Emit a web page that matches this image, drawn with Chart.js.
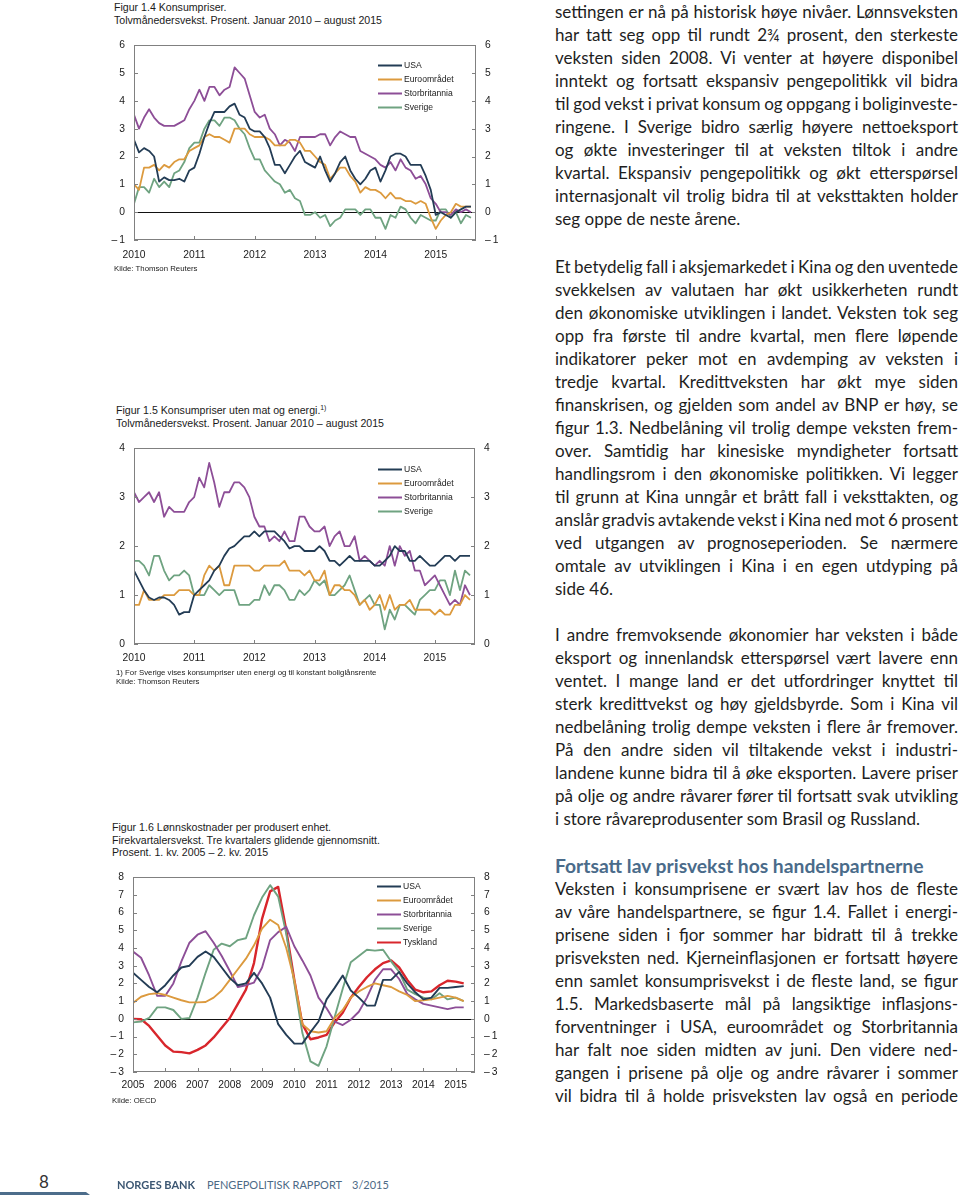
<!DOCTYPE html>
<html lang="no">
<head>
<meta charset="utf-8">
<script src="https://cdn.jsdelivr.net/npm/chart.js@4.4.1/dist/chart.umd.min.js"></script>
<style>
  body { margin: 0; width: 960px; height: 1200px; position: relative; overflow: hidden; background: #fff;
         font-family: "Liberation Sans", Arial, sans-serif; color: #1a1a1a; }
  .fig { position: absolute; font-size: 10.6px; line-height: 12.6px; white-space: nowrap; }
  .fig sup { font-size: 6.8px; vertical-align: 4px; line-height: 0; }
  .src { position: absolute; font-size: 7.8px; line-height: 9px; white-space: nowrap; }
  canvas { position: absolute; }
  .col { position: absolute; left: 555px; width: 403px; font-family: Lato, "Open Sans", sans-serif;
         font-size: 17px; color: #1e1e1e; }
  .col div { height: 23px; line-height: 23px; white-space: nowrap; text-align: justify; text-align-last: justify; }
  .col div.end { text-align-last: left; }
  .col h3 { margin: 0; height: 23px; line-height: 23px; font-size: 19.3px; font-weight: 700; color: #4a6b8a; white-space: nowrap; }
  .foot { position: absolute; font-family: Lato, sans-serif; white-space: nowrap; }
</style>
</head>
<body>

<!-- ─── Figur 1.4 ─────────────────────────────────────────── -->
<div class="fig" style="left:114px; top:1px;">Figur 1.4 Konsumpriser.<br>Tolvmånedersvekst. Prosent. Januar 2010 – august 2015</div>
<canvas id="c1" width="410" height="235" style="left:100px; top:30px;"></canvas>
<div class="src" style="left:114px; top:264px;">Kilde: Thomson Reuters</div>

<!-- ─── Figur 1.5 ─────────────────────────────────────────── -->
<div class="fig" style="left:116px; top:404px;">Figur 1.5 Konsumpriser uten mat og energi.<sup>1)</sup><br>Tolvmånedersvekst. Prosent. Januar 2010 – august 2015</div>
<canvas id="c2" width="409" height="236" style="left:100px; top:433px;"></canvas>
<div class="src" style="left:116px; top:668px;">1) For Sverige vises konsumpriser uten energi og til konstant boliglånsrente<br>Kilde: Thomson Reuters</div>

<!-- ─── Figur 1.6 ─────────────────────────────────────────── -->
<div class="fig" style="left:112px; top:821px;">Figur 1.6 Lønnskostnader per produsert enhet.<br>Firekvartalersvekst. Tre kvartalers glidende gjennomsnitt.<br>Prosent. 1. kv. 2005 – 2. kv. 2015</div>
<canvas id="c3" width="410" height="235" style="left:99px; top:862px;"></canvas>
<div class="src" style="left:112px; top:1096px;">Kilde: OECD</div>

<!-- ─── Brødtekst ─────────────────────────────────────────── -->
<div class="col" style="top:0px;">
  <div>settingen er nå på historisk høye nivåer. Lønnsveksten</div>
  <div>har tatt seg opp til rundt 2¾ prosent, den sterkeste</div>
  <div>veksten siden 2008. Vi venter at høyere disponibel</div>
  <div>inntekt og fortsatt ekspansiv pengepolitikk vil bidra</div>
  <div>til god vekst i privat konsum og oppgang i boliginveste-</div>
  <div>ringene. I Sverige bidro særlig høyere nettoeksport</div>
  <div>og økte investeringer til at veksten tiltok i andre</div>
  <div>kvartal. Ekspansiv pengepolitikk og økt etterspørsel</div>
  <div>internasjonalt vil trolig bidra til at veksttakten holder</div>
  <div class="end">seg oppe de neste årene.</div>
</div>
<div class="col" style="top:255px;">
  <div>Et betydelig fall i aksjemarkedet i Kina og den uventede</div>
  <div>svekkelsen av valutaen har økt usikkerheten rundt</div>
  <div>den økonomiske utviklingen i landet. Veksten tok seg</div>
  <div>opp fra første til andre kvartal, men flere løpende</div>
  <div>indikatorer peker mot en avdemping av veksten i</div>
  <div>tredje kvartal. Kredittveksten har økt mye siden</div>
  <div>finanskrisen, og gjelden som andel av BNP er høy, se</div>
  <div>figur 1.3. Nedbelåning vil trolig dempe veksten frem-</div>
  <div>over. Samtidig har kinesiske myndigheter fortsatt</div>
  <div>handlingsrom i den økonomiske politikken. Vi legger</div>
  <div>til grunn at Kina unngår et brått fall i veksttakten, og</div>
  <div>anslår gradvis avtakende vekst i Kina ned mot 6 prosent</div>
  <div>ved utgangen av prognoseperioden. Se nærmere</div>
  <div>omtale av utviklingen i Kina i en egen utdyping på</div>
  <div class="end">side 46.</div>
</div>
<div class="col" style="top:623px;">
  <div>I andre fremvoksende økonomier har veksten i både</div>
  <div>eksport og innenlandsk etterspørsel vært lavere enn</div>
  <div>ventet. I mange land er det utfordringer knyttet til</div>
  <div>sterk kredittvekst og høy gjeldsbyrde. Som i Kina vil</div>
  <div>nedbelåning trolig dempe veksten i flere år fremover.</div>
  <div>På den andre siden vil tiltakende vekst i industri-</div>
  <div>landene kunne bidra til å øke eksporten. Lavere priser</div>
  <div>på olje og andre råvarer fører til fortsatt svak utvikling</div>
  <div class="end">i store råvareprodusenter som Brasil og Russland.</div>
</div>
<div class="col" style="top:854px;">
  <h3>Fortsatt lav prisvekst hos handelspartnerne</h3>
  <div>Veksten i konsumprisene er svært lav hos de fleste</div>
  <div>av våre handelspartnere, se figur 1.4. Fallet i energi-</div>
  <div>prisene siden i fjor sommer har bidratt til å trekke</div>
  <div>prisveksten ned. Kjerneinflasjonen er fortsatt høyere</div>
  <div>enn samlet konsumprisvekst i de fleste land, se figur</div>
  <div>1.5. Markedsbaserte mål på langsiktige inflasjons-</div>
  <div>forventninger i USA, euroområdet og Storbritannia</div>
  <div>har falt noe siden midten av juni. Den videre ned-</div>
  <div>gangen i prisene på olje og andre råvarer i sommer</div>
  <div>vil bidra til å holde prisveksten lav også en periode</div>
</div>

<!-- ─── Sidefot ───────────────────────────────────────────── -->
<div class="foot" style="left:39px; top:1171px; font-size:17px; color:#333;">8</div>
<div style="position:absolute; left:0; top:1192px; width:90px; height:3px; background:#4d6d8b; clip-path:polygon(0 0, 86px 0, 90px 100%, 0 100%);"></div>
<div class="foot" style="left:117px; top:1178px; font-size:11px; font-weight:700; color:#3c5773;">NORGES BANK</div>
<div class="foot" style="left:207px; top:1178px; font-size:11px; color:#4d6a86;">PENGEPOLITISK RAPPORT</div>
<div class="foot" style="left:352px; top:1178px; font-size:11px; color:#4d6a86;">3/2015</div>

<script>
// ═══════════════════════════════════════════════════════════════
// ─── DATA
// ═══════════════════════════════════════════════════════════════
const seriesNames = ['USA', 'Euroområdet', 'Storbritannia', 'Sverige'];
const seriesNames3 = ['USA', 'Euroområdet', 'Storbritannia', 'Sverige', 'Tyskland'];

// Figur 1.4 – månedlig, jan 2010 – aug 2015
const cpiUsa = [
  2.6, 2.15, 2.3, 2.2, 2.0, 1.1, 1.25, 1.15, 1.15, 1.2, 1.1, 1.5,
  1.6, 2.1, 2.7, 3.2, 3.6, 3.6, 3.6, 3.8, 3.9, 3.5, 3.4, 3.0,
  2.9, 2.9, 2.7, 2.3, 1.7, 1.7, 1.4, 1.7, 2.0, 2.2, 1.8, 1.7,
  1.6, 2.0, 1.5, 1.1, 1.4, 1.8, 2.0, 1.5, 1.2, 1.0, 1.2, 1.5,
  1.6, 1.1, 1.5, 2.0, 2.1, 2.1, 2.0, 1.7, 1.7, 1.7, 1.3, 0.8,
  -0.1, 0.0, -0.1, -0.2, 0.0, 0.1, 0.2, 0.2
];
const cpiEuro = [
  1.0, 0.8, 1.6, 1.6, 1.7, 1.5, 1.7, 1.6, 1.8, 1.9, 1.9, 2.2,
  2.3, 2.4, 2.7, 2.8, 2.7, 2.7, 2.6, 2.5, 3.0, 3.0, 3.0, 2.8,
  2.7, 2.7, 2.7, 2.6, 2.4, 2.4, 2.4, 2.6, 2.6, 2.5, 2.2, 2.2,
  2.0, 1.8, 1.7, 1.2, 1.4, 1.6, 1.6, 1.3, 1.1, 0.7, 0.9, 0.8,
  0.8, 0.7, 0.5, 0.7, 0.5, 0.5, 0.4, 0.4, 0.3, 0.4, 0.3, -0.2,
  -0.6, -0.3, -0.1, 0.0, 0.3, 0.2, 0.2, 0.2
];
const cpiUk = [
  3.5, 3.0, 3.4, 3.7, 3.4, 3.2, 3.1, 3.1, 3.1, 3.2, 3.3, 3.7,
  4.0, 4.4, 4.0, 4.5, 4.5, 4.2, 4.4, 4.5, 5.2, 5.0, 4.8, 4.2,
  3.6, 3.4, 3.5, 3.0, 2.8, 2.4, 2.6, 2.5, 2.2, 2.7, 2.7, 2.7,
  2.7, 2.8, 2.8, 2.4, 2.7, 2.9, 2.8, 2.7, 2.7, 2.2, 2.1, 2.0,
  1.9, 1.7, 1.6, 1.8, 1.5, 1.9, 1.6, 1.5, 1.2, 1.3, 1.0, 0.5,
  0.3, 0.0, 0.0, -0.1, 0.1, 0.0, 0.1, 0.0
];
const cpiSwe = [
  0.3, 0.9, 0.9, 0.7, 1.2, 0.9, 1.1, 0.9, 1.4, 1.5, 1.8, 2.3,
  2.5, 2.5, 3.0, 3.3, 3.3, 3.1, 3.4, 3.4, 3.3, 3.0, 2.8, 2.3,
  1.9, 1.9, 1.5, 1.3, 1.1, 1.0, 0.7, 0.8, 0.5, 0.4, -0.1, -0.1,
  0.0, -0.2, -0.1, -0.5, -0.3, -0.2, 0.1, 0.1, 0.1, -0.1, 0.1, 0.1,
  -0.2, -0.2, -0.6, -0.1, -0.2, 0.2, 0.1, -0.2, -0.4, -0.1, -0.2, -0.3,
  -0.3, 0.1, 0.1, -0.2, 0.0, -0.4, -0.1, -0.2
];

// Figur 1.5 – månedlig, jan 2010 – aug 2015
const coreUsa = [
  1.5, 1.3, 1.1, 0.95, 0.9, 0.95, 0.95, 0.9, 0.8, 0.6, 0.65, 0.65,
  1.0, 1.1, 1.2, 1.3, 1.5, 1.6, 1.8, 1.95, 2.0, 2.1, 2.2, 2.2,
  2.3, 2.2, 2.3, 2.3, 2.3, 2.2, 2.1, 1.95, 2.0, 2.0, 1.9, 1.9,
  1.9, 2.0, 1.9, 1.7, 1.7, 1.6, 1.7, 1.8, 1.7, 1.7, 1.7, 1.7,
  1.6, 1.6, 1.7, 1.8, 2.0, 1.9, 1.9, 1.7, 1.7, 1.8, 1.7, 1.6,
  1.6, 1.7, 1.8, 1.8, 1.7, 1.8, 1.8, 1.8
];
const coreEuro = [
  0.8, 0.8, 1.1, 0.9, 0.9, 0.9, 1.0, 1.0, 1.0, 1.1, 1.1, 1.1,
  1.0, 1.0, 1.4, 1.6, 1.5, 1.6, 1.2, 1.2, 1.6, 1.6, 1.6, 1.6,
  1.5, 1.5, 1.6, 1.6, 1.6, 1.6, 1.7, 1.5, 1.5, 1.5, 1.4, 1.5,
  1.3, 1.3, 1.5, 1.0, 1.2, 1.2, 1.1, 1.1, 1.0, 0.8, 0.9, 0.7,
  0.8, 1.0, 0.7, 1.0, 0.7, 0.8, 0.8, 0.9, 0.7, 0.7, 0.7, 0.7,
  0.6, 0.7, 0.6, 0.6, 0.8, 0.8, 1.0, 0.9
];
const coreUk = [
  3.1, 2.9, 3.0, 3.1, 2.9, 3.1, 2.6, 2.8, 2.7, 2.7, 2.7, 2.9,
  3.0, 3.4, 3.2, 3.7, 3.3, 2.8, 3.1, 3.1, 3.3, 3.3, 3.2, 3.0,
  2.6, 2.4, 2.4, 2.1, 2.2, 2.1, 2.3, 2.1, 2.1, 2.6, 2.6, 2.4,
  2.3, 2.3, 2.4, 2.0, 2.2, 2.3, 2.0, 2.0, 2.2, 1.7, 1.8, 1.7,
  1.6, 1.7, 1.6, 2.0, 1.6, 2.0, 1.8, 1.9, 1.5, 1.5, 1.2, 1.3,
  1.4, 1.2, 1.0, 0.8, 0.9, 0.8, 1.2, 1.0
];
const coreSwe = [
  1.7, 1.7, 1.6, 1.4, 1.8, 1.8, 1.5, 1.3, 1.4, 1.4, 1.5, 1.4,
  1.0, 1.0, 1.0, 1.2, 1.1, 1.0, 1.1, 1.1, 1.1, 0.8, 0.8, 0.8,
  0.9, 0.9, 1.2, 1.0, 1.2, 1.2, 1.1, 0.9, 0.9, 1.1, 1.0, 1.1,
  1.3, 1.2, 1.3, 1.0, 1.0, 1.1, 1.2, 1.4, 1.1, 0.8, 0.9, 1.0,
  0.8, 0.8, 0.3, 0.7, 0.5, 0.8, 0.8, 0.7, 0.6, 0.9, 1.0, 1.1,
  1.1, 1.3, 1.3, 1.0, 1.5, 1.1, 1.5, 1.4
];

// Figur 1.6 – kvartalsvis, 1. kv. 2005 – 2. kv. 2015
const ulcUsa = [
  2.6, 2.2, 1.8, 1.5,   1.9, 2.45, 2.9, 3.0,   3.5, 3.8, 3.5, 2.9,
  2.3, 1.9, 2.0, 2.6,   2.0, 1.2, -0.3, -0.9,  -1.4, -1.4, -0.75, -0.15,
  1.1, 1.75, 2.45, 1.6, 1.2, 0.75, 0.75, 2.2,  2.2, 2.65, 2.0, 1.5,
  1.1, 1.2, 1.75, 1.75, 1.8, 1.85
];
const ulcEuro = [
  0.9, 1.25, 1.4, 1.45, 1.35, 1.2, 1.05, 0.93, 0.93, 0.95, 1.2, 1.6,
  2.2, 2.8, 3.4, 4.15,  5.1, 5.6, 5.3, 4.0,    2.2, -0.3, -0.7, -0.77,
  -0.7, 0.05, 0.5, 1.2, 1.55, 1.8, 2.0, 1.9,   1.8, 1.55, 1.35, 1.0,
  1.05, 1.1, 1.2, 1.3,  1.2, 1.0
];
const ulcUk = [
  3.8, 3.45, 2.45, 1.3, 1.3, 2.0, 3.25, 4.3,   4.75, 4.95, 4.3, 3.55,
  2.7, 1.8, 1.9, 2.05,  2.9, 4.45, 4.9, 5.2,   4.1, 3.3, 2.45, 1.2,
  0.6, -0.15, -0.35, -0.05, 0.4, 1.2, 2.2, 2.8, 2.8, 2.25, 1.4, 1.1,
  0.85, 0.75, 0.65, 0.55, 0.65, 0.65
];
const ulcSwe = [
  -0.2, -0.15, 0.05, 0.65, 0.65, 0.5, 0.0, 0.05, 1.2, 2.6, 3.9, 4.25,
  4.1, 4.45, 4.55, 5.85, 6.85, 7.55, 6.9, 4.8,  2.0, -0.8, -2.4, -2.65,
  -1.55, 0.1, 1.7, 3.2, 3.55, 3.9, 3.85, 3.9,  3.25, 2.65, 1.65, 1.4,
  1.2, 1.1, 1.45, 1.1,  1.2, 1.0
];
const ulcGer = [
  0.0, -0.02, -0.4, -0.95, -1.5, -1.85, -1.88, -1.95, -1.75, -1.5, -1.05, -0.5,
  0.05, 0.85, 1.65, 3.15, 5.65, 7.2, 7.45, 5.0,  2.2, -0.3, -1.15, -1.05,
  -0.9, -0.2, 0.35, 1.2, 1.8, 2.35, 2.8, 3.15,   3.3, 2.9, 2.2, 1.65,
  1.5, 1.55, 1.9, 2.15, 2.1, 2.0
];

// Akser
const yearTicks12 = [2010, 2011, 2012, 2013, 2014, 2015];
const yearTicks3 = [2005, 2006, 2007, 2008, 2009, 2010, 2011, 2012, 2013, 2014, 2015];
const yTicks1 = [-1, 0, 1, 2, 3, 4, 5, 6];
const yTicks2 = [0, 1, 2, 3, 4];
const yTicks3 = [-3, -2, -1, 0, 1, 2, 3, 4, 5, 6, 7, 8];

const colors = ['#233c55', '#dc9a3e', '#8d4e97', '#6fa381', '#d8262c'];

// ═══════════════════════════════════════════════════════════════
// ─── HELPERS
// ═══════════════════════════════════════════════════════════════
const toMonthly = (vals, start) => vals.map((v, i) => ({ x: start + i / 12, y: v }));
const toQuarterly = (vals, start) => vals.map((v, i) => ({ x: start + i / 4, y: v }));
const fmtNum = v => (v < 0 ? '\u2013\u2009' + Math.abs(v) : String(v));

// box, inward tick marks, zero line and in-plot legend
const framePlugin = {
  id: 'frame',
  beforeDatasetsDraw(chart) {
    const { ctx, chartArea: a, scales } = chart;
    const y0 = Math.round(scales.y.getPixelForValue(0)) + 0.5;
    if (y0 > a.top + 2 && y0 < a.bottom - 2) {
      ctx.save();
      ctx.strokeStyle = '#111';
      ctx.lineWidth = 1;
      ctx.beginPath();
      ctx.moveTo(a.left, y0);
      ctx.lineTo(a.right, y0);
      ctx.stroke();
      ctx.restore();
    }
  },
  afterDraw(chart, args, opts) {
    const { ctx, chartArea: a, scales } = chart;
    ctx.save();
    ctx.strokeStyle = '#808080';
    ctx.lineWidth = 1;
    ctx.strokeRect(Math.round(a.left) + 0.5, Math.round(a.top) + 0.5,
                   Math.round(a.right - a.left) - 1, Math.round(a.bottom - a.top) - 1);
    ctx.beginPath();
    scales.y.ticks.forEach(t => {
      const p = Math.round(scales.y.getPixelForValue(t.value)) + 0.5;
      ctx.moveTo(a.left, p); ctx.lineTo(a.left + 4, p);
      ctx.moveTo(a.right - 4, p); ctx.lineTo(a.right, p);
    });
    scales.x.ticks.forEach(t => {
      const p = Math.round(scales.x.getPixelForValue(t.value)) + 0.5;
      ctx.moveTo(p, a.bottom); ctx.lineTo(p, a.bottom - 4);
    });
    ctx.stroke();

    ctx.font = '8.6px "Liberation Sans", Arial, sans-serif';
    ctx.textBaseline = 'middle';
    ctx.fillStyle = '#1a1a1a';
    chart.data.datasets.forEach((d, i) => {
      const lx = a.right - opts.legendRight;
      const ly = Math.round(a.top + opts.legendTop + i * 14) + 0.5;
      ctx.strokeStyle = d.borderColor;
      ctx.lineWidth = 2;
      ctx.beginPath();
      ctx.moveTo(lx, ly);
      ctx.lineTo(lx + 24, ly);
      ctx.stroke();
      ctx.fillText(d.label, lx + 26, ly + 0.5);
    });
    ctx.restore();
  }
};

function makeChart(id, datasets, cfg) {
  const tickFont = { family: '"Liberation Sans", Arial, sans-serif', size: 10.3 };
  const yAxis = (pos) => ({
    position: pos,
    min: cfg.yTicks[0],
    max: cfg.yTicks[cfg.yTicks.length - 1],
    grid: { display: false, drawTicks: false },
    border: { display: false },
    afterBuildTicks: s => { s.ticks = cfg.yTicks.map(v => ({ value: v })); },
    afterFit: s => { s.width = 34; },
    ticks: { font: tickFont, color: '#1a1a1a', padding: 9, callback: fmtNum }
  });
  return new Chart(document.getElementById(id), {
    type: 'line',
    data: { datasets },
    options: {
      responsive: false,
      animation: false,
      events: [],
      layout: { padding: { top: 5, left: 0, right: 0, bottom: 0 } },
      plugins: {
        legend: { display: false },
        tooltip: { enabled: false },
        frame: { legendRight: cfg.legendRight, legendTop: cfg.legendTop }
      },
      elements: { point: { radius: 0 }, line: { tension: 0, borderJoinStyle: 'round' } },
      scales: {
        x: {
          type: 'linear',
          min: cfg.xMin,
          max: cfg.xMax,
          grid: { display: false, drawTicks: false },
          border: { display: false },
          afterBuildTicks: s => { s.ticks = cfg.xTicks.map(v => ({ value: v })); },
          afterFit: s => { s.height = 25; },
          ticks: { font: tickFont, color: '#1a1a1a', padding: cfg.xPad, maxRotation: 0, callback: v => String(v) }
        },
        y: yAxis('left'),
        y2: yAxis('right')
      }
    },
    plugins: [framePlugin]
  });
}

const ds = (label, data, color, width) => ({
  label, data, borderColor: color, backgroundColor: color, borderWidth: width, fill: false
});

// ═══════════════════════════════════════════════════════════════
// ─── CHARTS
// ═══════════════════════════════════════════════════════════════
makeChart('c1', [
  ds(seriesNames[0], toMonthly(cpiUsa, 2010), colors[0], 1.8),
  ds(seriesNames[1], toMonthly(cpiEuro, 2010), colors[1], 1.8),
  ds(seriesNames[2], toMonthly(cpiUk, 2010), colors[2], 1.8),
  ds(seriesNames[3], toMonthly(cpiSwe, 2010), colors[3], 1.8)
], { xMin: 2010, xMax: 2010 + 68 / 12, xTicks: yearTicks12, yTicks: yTicks1, xPad: 9, legendRight: 98, legendTop: 20 });

makeChart('c2', [
  ds(seriesNames[0], toMonthly(coreUsa, 2010), colors[0], 1.8),
  ds(seriesNames[1], toMonthly(coreEuro, 2010), colors[1], 1.8),
  ds(seriesNames[2], toMonthly(coreUk, 2010), colors[2], 1.8),
  ds(seriesNames[3], toMonthly(coreSwe, 2010), colors[3], 1.8)
], { xMin: 2010, xMax: 2010 + 68 / 12, xTicks: yearTicks12, yTicks: yTicks2, xPad: 8, legendRight: 97, legendTop: 21 });

makeChart('c3', [
  ds(seriesNames3[0], toQuarterly(ulcUsa, 2005), colors[0], 1.9),
  ds(seriesNames3[1], toQuarterly(ulcEuro, 2005), colors[1], 1.9),
  ds(seriesNames3[2], toQuarterly(ulcUk, 2005), colors[2], 1.9),
  ds(seriesNames3[3], toQuarterly(ulcSwe, 2005), colors[3], 1.9),
  ds(seriesNames3[4], toQuarterly(ulcGer, 2005), colors[4], 2.4)
], { xMin: 2005, xMax: 2015.6, xTicks: yearTicks3, yTicks: yTicks3, xPad: 7, legendRight: 98, legendTop: 9 });

// ═══════════════════════════════════════════════════════════════
// ─── JUSTERING AV BRØDTEKST (tett linje -> mindre ordmellomrom)
// ═══════════════════════════════════════════════════════════════
function fitLines() {
  document.querySelectorAll('.col div').forEach(el => {
    el.style.wordSpacing = '';
    el.style.letterSpacing = '';
    const over = el.scrollWidth - el.clientWidth;
    if (over <= 0) return;
    const spaces = (el.textContent.match(/ /g) || []).length || 1;
    el.style.wordSpacing = (-Math.min((over + 1) / spaces, 1.8)) + 'px';
    const rest = el.scrollWidth - el.clientWidth;
    if (rest > 0) el.style.letterSpacing = (-(rest + 1) / el.textContent.length) + 'px';
  });
}
fitLines();
if (document.fonts) document.fonts.ready.then(fitLines);
</script>
</body>
</html>
